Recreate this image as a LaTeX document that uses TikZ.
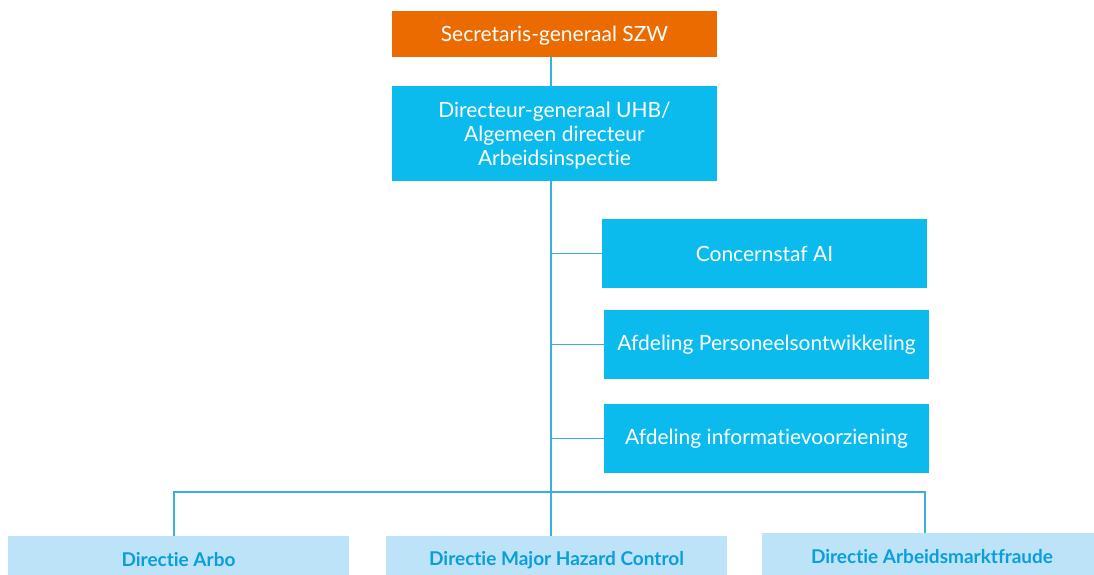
\documentclass[tikz,border=0pt]{standalone}
\usepackage{fontspec}
\setmainfont{Lato}[Ligatures={NoCommon}]
\definecolor{sgorange}{HTML}{EC6B00}
\definecolor{cyanbox}{HTML}{0CBBEE}
\definecolor{lightbox}{HTML}{BDE3F8}
\definecolor{linecol}{HTML}{3AADE4}
\definecolor{bluetext}{HTML}{0B9EDC}
\begin{document}
\begin{tikzpicture}[x=1pt,y=-1pt,
  box/.style={rectangle,inner sep=0pt,minimum width=325pt,text=white,align=center,
    font=\fontsize{21}{24}\selectfont},
  orangebox/.style={box,fill=sgorange},
  cbox/.style={box,fill=cyanbox},
  lbox/.style={rectangle,inner sep=0pt,minimum width=341pt,minimum height=48pt,fill=lightbox,
    text=bluetext,font=\bfseries\fontsize{19}{22}\selectfont},
  conn/.style={draw=linecol,line width=1.5pt}]
\useasboundingbox (0,0) rectangle (1094,574);
\node[orangebox,minimum height=46pt,text depth=0pt] (sg) at (554.5,34) {Secretaris-generaal SZW};
\node[cbox,minimum height=95pt,text depth=0pt] (dg) at (554.5,133.5) {Directeur-generaal UHB/\\Algemeen directeur\\Arbeidsinspectie};
\node[cbox,minimum height=69pt] (cs) at (764.5,253.5) {Concernstaf AI};
\node[cbox,minimum height=69pt] (ap) at (766.5,344.5) {Afdeling Personeelsontwikkeling};
\node[cbox,minimum height=69pt] (ai) at (766.5,438.5) {Afdeling informatievoorziening};
\node[lbox] (arbo) at (178.5,560) {Directie Arbo};
\node[lbox] (mhc) at (556.5,560) {Directie Major Hazard Control};
\node[lbox] (amf) at (932,557) {Directie Arbeidsmarktfraude};
\coordinate (j) at (551,492);
\coordinate (jl) at (174,492);
\coordinate (jr) at (925,492);
\draw[conn] (sg.south -| j) -- (dg.north -| j);
\draw[conn] (dg.south -| j) -- (mhc.north -| j);
\draw[conn] (cs.west -| j) -- (cs.west);
\draw[conn] (ap.west -| j) -- (ap.west);
\draw[conn] (ai.west -| j) -- (ai.west);
\draw[conn] (arbo.north -| jl) -- (jl) -- (jr) -- (amf.north -| jr);
\end{tikzpicture}
\end{document}
